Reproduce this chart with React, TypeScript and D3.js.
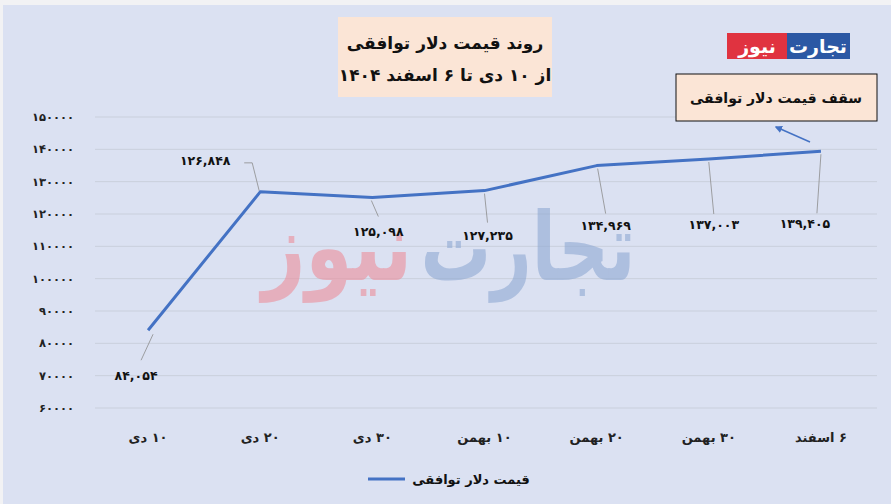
import React from "react";
import * as d3 from "d3";

const categories = ["۱۰ دی", "۲۰ دی", "۳۰ دی", "۱۰ بهمن", "۲۰ بهمن", "۳۰ بهمن", "۶ اسفند"];
const values = [84054, 126848, 125098, 127235, 134969, 137003, 139405];
const yTicks = [60000, 70000, 80000, 90000, 100000, 110000, 120000, 130000, 140000, 150000];
const titleLines = ["روند قیمت دلار توافقی", "از ۱۰ دی تا ۶ اسفند ۱۴۰۴"];
const seriesName = "قیمت دلار توافقی";
const calloutText = "سقف قیمت دلار توافقی";
// label placement offsets relative to each point: [labelDx, labelDy, leaderStartDx, leaderStartDy, leaderEndDx, leaderEndDy]
const labelOffsets: number[][] = [
  [-12, 50, 5, 4, -7, 30],
  [-55, -27, -1, -1, -7, -29],
  [6, 38, -1, 3, 6, 19],
  [3, 49, 0, 3, 3, 32],
  [9, 64, 1, 3, 9, 48],
  [5, 70, 0, 3, 5, 55],
  [-16, 77, 0, 3, -4, 62],
];

const fa = (s: string) => s.replace(/\d/g, (d) => "۰۱۲۳۴۵۶۷۸۹"[+d]);
const FONT = "'DejaVu Sans', sans-serif";

export default function App() {
  const W = 891, H = 504;
  const x = d3.scalePoint<string>().domain(categories).range([92, 877]).padding(0.5);
  const y = d3.scaleLinear().domain([60000, 150000]).range([408, 117]);
  const line = d3.line<number>().x((_, i) => x(categories[i])!).y((v) => y(v));
  const fmt = d3.format(",");

  return (
    <svg width={W} height={H} style={{ position: "absolute", left: 0, top: 0 }} fontFamily={FONT}>
      <rect x={0} y={0} width={W} height={H} fill="#f2f2f4" />
      <rect x={3} y={5} width={W - 3} height={H - 5} fill="#dbe1f2" />
      {/* gridlines */}
      {yTicks.map((t) => (
        <line key={t} x1={95} x2={877} y1={y(t)} y2={y(t)} stroke="#c9cfdc" strokeWidth={1} />
      ))}
      {/* y tick labels */}
      {yTicks.map((t) => (
        <text key={"l" + t} x={74} y={y(t) + 4} textAnchor="end" fontSize={11.5} fontWeight="bold" fill="#222" letterSpacing={2.2} direction="ltr">
          {fa(String(t))}
        </text>
      ))}
      {/* watermark */}
      <text x={528} y={280} textAnchor="middle" fontSize={95} fontWeight="bold" fill="#8fa9d3" opacity={0.6} direction="rtl" textLength={215} lengthAdjust="spacingAndGlyphs">
        تجارت
      </text>
      <text x={337} y={280} textAnchor="middle" fontSize={95} fontWeight="bold" fill="#ec8f9b" opacity={0.6} direction="rtl" textLength={150} lengthAdjust="spacingAndGlyphs">
        نیوز
      </text>
      {/* leader lines */}
      {values.map((v, i) => {
        const px = x(categories[i])!, py = y(v);
        const o = labelOffsets[i];
        if (i === 1) {
          return (
            <polyline key={"ld" + i} points={`${px + o[2]},${py + o[3]} ${px - 8},${py - 29} ${px - 16},${py - 29}`} fill="none" stroke="#8c8c8c" strokeWidth={0.8} />
          );
        }
        return (
          <line key={"ld" + i} x1={px + o[2]} y1={py + o[3]} x2={px + o[4]} y2={py + o[5]} stroke="#8c8c8c" strokeWidth={0.8} />
        );
      })}
      {/* series line */}
      <path d={line(values)!} fill="none" stroke="#4472c4" strokeWidth={3} strokeLinejoin="round" />
      {/* data labels */}
      {values.map((v, i) => {
        const px = x(categories[i])!, py = y(v);
        const o = labelOffsets[i];
        return (
          <text key={"dl" + i} x={px + o[0]} y={py + o[1]} textAnchor="middle" fontSize={12.5} fontWeight="bold" fill="#111" letterSpacing={2} direction="ltr">
            {fa(fmt(v))}
          </text>
        );
      })}
      {/* x labels */}
      {categories.map((c) => (
        <text key={c} x={x(c)!} y={442} textAnchor="middle" fontSize={13} fontWeight="bold" fill="#222" direction="rtl">
          {c}
        </text>
      ))}
      {/* title */}
      <rect x={338} y={17} width={214} height={80} fill="#fbe5d6" />
      {titleLines.map((t, i) => (
        <text key={t} x={445} y={49 + i * 32} textAnchor="middle" fontSize={17} fontWeight="bold" fill="#111" direction="rtl">
          {t}
        </text>
      ))}
      {/* logo */}
      <rect x={727} y={33} width={60} height={26} fill="#e03340" />
      <rect x={787} y={33} width={63} height={26} fill="#2b58a4" />
      <text x={757} y={53} textAnchor="middle" fontSize={19} fontWeight="bold" fill="#fff" direction="rtl">نیوز</text>
      <text x={818} y={53} textAnchor="middle" fontSize={19} fontWeight="bold" fill="#fff" direction="rtl">تجارت</text>
      {/* callout */}
      <rect x={676} y={74} width={201} height={47} fill="#fbe5d6" stroke="#111" strokeWidth={1} />
      <text x={776} y={103} textAnchor="middle" fontSize={14} fontWeight="bold" fill="#111" direction="rtl">
        {calloutText}
      </text>
      <defs>
        <marker id="ah" viewBox="0 0 10 10" refX={8} refY={5} markerWidth={5} markerHeight={5} orient="auto-start-reverse">
          <path d="M0,0 L10,5 L0,10 z" fill="#4472c4" />
        </marker>
      </defs>
      <line x1={810} y1={142} x2={776} y2={127} stroke="#4472c4" strokeWidth={1.5} markerEnd="url(#ah)" />
      {/* legend */}
      <line x1={368} x2={405} y1={479} y2={479} stroke="#4472c4" strokeWidth={3} />
      <text x={471} y={484} textAnchor="middle" fontSize={13} fontWeight="bold" fill="#111" direction="rtl">
        {seriesName}
      </text>
    </svg>
  );
}
